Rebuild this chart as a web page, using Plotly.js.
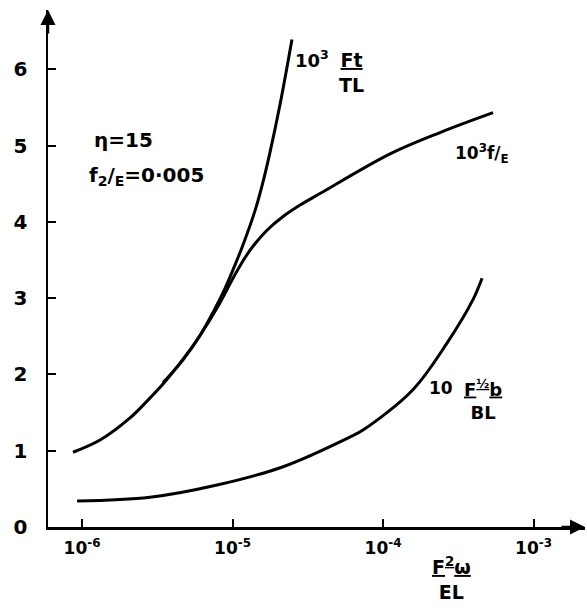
<!DOCTYPE html>
<html>
<head>
<meta charset="utf-8">
<script src="https://cdn.plot.ly/plotly-3.0.1.min.js"></script>
<style>body{margin:0;padding:0;background:#fff}#chart{width:587px;height:614px}</style>
</head>
<body>
<div id="chart"></div>
<script>
// Curve 10^3 f/E
var fE_x = [8.71e-7, 1.318e-6, 2.084e-6, 2.704e-6, 3.51e-6, 4.69e-6, 6.08e-6, 7.89e-6, 9.18e-6, 1.007e-5, 1.175e-5, 1.368e-5, 1.694e-5, 2.168e-5, 2.812e-5, 3.811e-5, 1.114e-4, 2.393e-4, 5.383e-4];
var fE_y = [0.98, 1.14, 1.43, 1.65, 1.89, 2.20, 2.51, 2.87, 3.11, 3.26, 3.49, 3.68, 3.89, 4.07, 4.22, 4.37, 4.89, 5.17, 5.43];
// Curve 10^3 Ft/TL
var Ft_x = [3.45e-6, 4.69e-6, 6.08e-6, 7.41e-6, 8.65e-6, 1.007e-5, 1.175e-5, 1.413e-5, 1.570e-5, 1.774e-5, 2.070e-5, 2.483e-5];
var Ft_y = [1.89, 2.19, 2.51, 2.81, 3.07, 3.37, 3.70, 4.15, 4.47, 4.91, 5.54, 6.39];
// Curve 10 F^1/2 b / BL
var Fb_x = [9.27e-7, 2.83e-6, 7.89e-6, 2.17e-5, 6.04e-5, 7.36e-5, 1.58e-4, 2.66e-4, 3.96e-4, 4.55e-4];
var Fb_y = [0.34, 0.39, 0.55, 0.79, 1.18, 1.27, 1.80, 2.41, 2.98, 3.26];

var xTickVals = [1e-6, 1e-5, 1e-4, 1e-3];
var xTickText = ['10<sup>-6</sup>', '10<sup>-5</sup>', '10<sup>-4</sup>', '10<sup>-3</sup>'];
var yTickVals = [0, 1, 2, 3, 4, 5, 6];
var yTickText = ['0', '1', '2', '3', '4', '5', '6'];

var FONT = 'DejaVu Sans, sans-serif';
var lineStyle = {color: '#000', width: 3, shape: 'spline', smoothing: 1};

var traces = [
  {x: fE_x, y: fE_y, mode: 'lines', line: lineStyle, hoverinfo: 'skip'},
  {x: Ft_x, y: Ft_y, mode: 'lines', line: lineStyle, hoverinfo: 'skip'},
  {x: Fb_x, y: Fb_y, mode: 'lines', line: lineStyle, hoverinfo: 'skip'}
];

function ann(x, y, text, size) {
  return {xref: 'paper', yref: 'paper', x: x, y: y, text: text, showarrow: false,
          font: {family: FONT, size: size || 18, color: '#000', weight: 'bold'}, xanchor: 'center', yanchor: 'middle'};
}

var layout = {
  width: 587, height: 614,
  margin: {l: 48, r: 2, t: 10, b: 87},
  paper_bgcolor: '#fff', plot_bgcolor: '#fff',
  showlegend: false,
  xaxis: {
    type: 'log', range: [-6.226, -2.658],
    showline: true, linewidth: 2.5, linecolor: '#000',
    ticks: 'inside', ticklen: 8, tickwidth: 2, tickcolor: '#000',
    tickvals: xTickVals, ticktext: xTickText,
    tickfont: {family: FONT, size: 17, color: '#000', weight: 'bold'},
    ticklabelstandoff: 4,
    showgrid: false, zeroline: false
  },
  yaxis: {
    range: [0, 6.776],
    showline: true, linewidth: 2.5, linecolor: '#000',
    ticks: 'inside', ticklen: 8, tickwidth: 2, tickcolor: '#000',
    tickvals: yTickVals, ticktext: yTickText,
    tickfont: {family: FONT, size: 20, color: '#000', weight: 'bold'},
    ticklabelstandoff: 14,
    showgrid: false, zeroline: false
  },
  annotations: [
    {xref: 'paper', yref: 'paper', x: 0, y: 1, ax: 0, ay: 25, text: '', showarrow: true,
     arrowhead: 2, arrowsize: 1.2, arrowwidth: 2.5, arrowcolor: '#000'},
    {xref: 'paper', yref: 'paper', x: 1, y: 0, ax: -25, ay: 0, text: '', showarrow: true,
     arrowhead: 2, arrowsize: 1.2, arrowwidth: 2.5, arrowcolor: '#000'},
    ann(0.1415, 0.7485, 'η=15', 20),
    ann(0.184, 0.679, 'f<sub>2</sub>/<sub>E</sub>=0·005', 20),
    ann(0.4916, 0.905, '10<sup>3</sup>', 18),
    ann(0.566, 0.880, '<u>Ft</u><br>TL', 19),
    ann(0.808, 0.723, '10<sup>3</sup>f/<sub>E</sub>', 17),
    ann(0.732, 0.269, '10', 17),
    ann(0.810, 0.246, '<u>F<sup>½</sup>b</u><br>BL', 18),
    ann(0.752, -0.099, '<u>F<sup>2</sup>ω</u><br>EL', 19)
  ]
};

Plotly.newPlot('chart', traces, layout, {staticPlot: true});
</script>
</body>
</html>
